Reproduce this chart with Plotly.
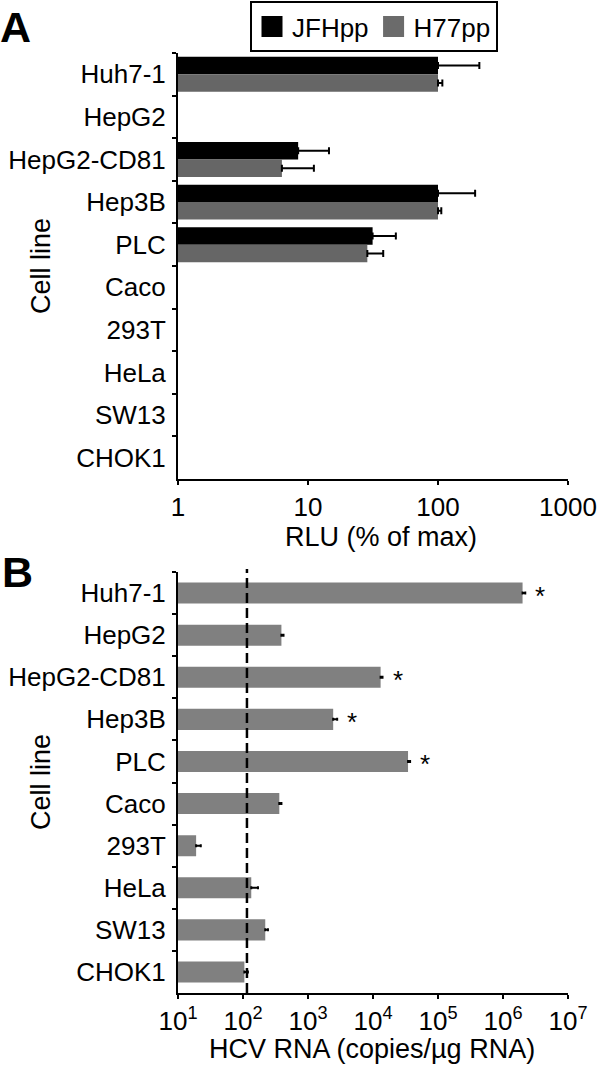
import math
import plotly.graph_objects as go
from plotly.subplots import make_subplots

# data
CELL_LINES = ["Huh7-1", "HepG2", "HepG2-CD81", "Hep3B", "PLC",
              "Caco", "293T", "HeLa", "SW13", "CHOK1"]

# panel A: pseudoparticle entry, RLU (% of max); None = no signal
JFH_RLU = [100, None, 8.4, 100, 31.4, None, None, None, None, None]
JFH_ERR = [108, 0, 6.1, 93, 16, 0, 0, 0, 0, 0]
H77_RLU = [100, None, 6.3, 100, 28.6, None, None, None, None, None]
H77_ERR = [8, 0, 4.8, 6, 9.3, 0, 0, 0, 0, 0]

# panel B: HCV RNA copies / ug RNA
HCV_RNA = [2.0e6, 390, 13100, 2440, 34600, 362, 19, 134, 220, 105]
HCV_ERR = [2.0e5, 30, 900, 370, 2600, 28, 3.4, 36, 22, 14]
SIGNIF = [True, False, True, True, True, False, False, False, False, False]
DETECTION_LIMIT = 115

A_TICKS = [1, 10, 100, 1000]
A_TICKTEXT = ["1", "10", "100", "1000"]
B_TICKS = [1e1, 1e2, 1e3, 1e4, 1e5, 1e6, 1e7]
B_TICKTEXT = ["10<sup>%d</sup>" % i for i in range(1, 8)]

FONT = "Liberation Sans, Arial, sans-serif"
BLACK = "#000000"
DARK_GRAY = "#666666"
MID_GRAY = "#808080"

W, H = 600, 1068


def px_x(x):
    return x / W


def px_y(y):
    return 1 - y / H


fig = make_subplots(rows=2, cols=1)

fig.add_trace(go.Bar(
    y=CELL_LINES, x=JFH_RLU, orientation="h", name="JFHpp",
    marker=dict(color=BLACK, line=dict(width=0)),
    error_x=dict(type="data", symmetric=False, array=JFH_ERR,
                 arrayminus=[0] * len(JFH_ERR), color=BLACK,
                 thickness=2, width=3.5),
    showlegend=False,
), row=1, col=1)

fig.add_trace(go.Bar(
    y=CELL_LINES, x=H77_RLU, orientation="h", name="H77pp",
    marker=dict(color=DARK_GRAY, line=dict(width=0)),
    error_x=dict(type="data", symmetric=False, array=H77_ERR,
                 arrayminus=[0] * len(H77_ERR), color=BLACK,
                 thickness=2, width=3.5),
    showlegend=False,
), row=1, col=1)

# legend entries (bigger squares than the bar legend symbol)
for nm, col in [("JFHpp", BLACK), ("H77pp", "#6b6b6b")]:
    fig.add_trace(go.Scatter(
        x=[None], y=[None], mode="markers", name=nm,
        marker=dict(symbol="square", size=16, color=col,
                    line=dict(color=col, width=5)),
    ), row=1, col=1)

fig.add_trace(go.Bar(
    y=CELL_LINES, x=HCV_RNA, orientation="h", name="HCV RNA",
    marker=dict(color=MID_GRAY, line=dict(width=0)),
    error_x=dict(type="data", symmetric=False, array=HCV_ERR,
                 arrayminus=[0] * len(HCV_ERR), color=BLACK,
                 thickness=2, width=1.5),
    showlegend=False,
), row=2, col=1)

# detection limit (shape positions on a log axis are given in data units)
fig.add_shape(type="line", xref="x2", yref="paper",
              x0=DETECTION_LIMIT, x1=DETECTION_LIMIT,
              y0=px_y(993), y1=px_y(569), layer="above",
              line=dict(color=BLACK, width=2.5, dash="10px,5px"))

# significance stars
for cl, v, e, s in zip(CELL_LINES, HCV_RNA, HCV_ERR, SIGNIF):
    if s:
        fig.add_annotation(x=math.log10(v + e), y=cl, xref="x2", yref="y2",
                           text="*", showarrow=False, xshift=15, yshift=-3,
                           font=dict(size=26, color=BLACK, family=FONT))

axis_common = dict(showline=True, linecolor=BLACK, linewidth=2,
                   ticks="outside", tickcolor=BLACK, tickwidth=2,
                   showgrid=False, zeroline=False, automargin=False,
                   tickfont=dict(size=26, color=BLACK, family=FONT))

fig.update_xaxes(type="log", range=[0, 3], tickvals=A_TICKS, ticktext=A_TICKTEXT,
                 ticklen=4, domain=[px_x(178), px_x(568)], row=1, col=1, **axis_common)
fig.update_xaxes(type="log", range=[1, 7], tickvals=B_TICKS, ticktext=B_TICKTEXT,
                 ticklen=4, domain=[px_x(178), px_x(568)], row=2, col=1, **axis_common)
fig.update_yaxes(autorange="reversed", tickson="boundaries", ticklen=4,
                 ticklabelstandoff=5, domain=[px_y(479), px_y(53)],
                 row=1, col=1, **axis_common)
fig.update_yaxes(autorange="reversed", tickson="boundaries", ticklen=4,
                 ticklabelstandoff=5, domain=[px_y(993), px_y(572)],
                 row=2, col=1, **axis_common)

texts = [
    dict(text="<b>A</b>", x=px_x(-2), y=px_y(27), xanchor="left", size=43),
    dict(text="<b>B</b>", x=px_x(0), y=px_y(572), xanchor="left", size=43),
    dict(text="Cell line", x=px_x(41), y=px_y(266), textangle=-90, size=27),
    dict(text="Cell line", x=px_x(41), y=px_y(782), textangle=-90, size=27),
    dict(text="RLU (% of max)", x=px_x(381), y=px_y(537), size=27),
    dict(text="HCV RNA (copies/\u00b5g RNA)", x=px_x(372), y=px_y(1049), size=27),
]
for t in texts:
    fig.add_annotation(text=t["text"], x=t["x"], y=t["y"], xref="paper", yref="paper",
                       xanchor=t.get("xanchor", "center"), yanchor="middle",
                       textangle=t.get("textangle", 0), showarrow=False,
                       font=dict(size=t["size"], color=BLACK, family=FONT))

fig.update_layout(
    template="none",
    width=W, height=H,
    margin=dict(l=0, r=0, t=0, b=0),
    paper_bgcolor="white", plot_bgcolor="white",
    barmode="group", bargap=0.18, bargroupgap=0,
    font=dict(family=FONT, color=BLACK),
    legend=dict(orientation="h", x=px_x(374), xanchor="center",
                y=px_y(1), yanchor="top", bordercolor=BLACK, borderwidth=2,
                font=dict(size=26, color=BLACK, family=FONT),
                itemwidth=30, tracegroupgap=0),
)
# panel B bars are thinner
fig.update_traces(width=0.5, selector=dict(name="HCV RNA"))

# page body has a default 8px margin; drop it so the figure sits at 0,0
fig.write_html("out.html", config={"displayModeBar": False},
               post_script="document.body.style.margin='0';")
